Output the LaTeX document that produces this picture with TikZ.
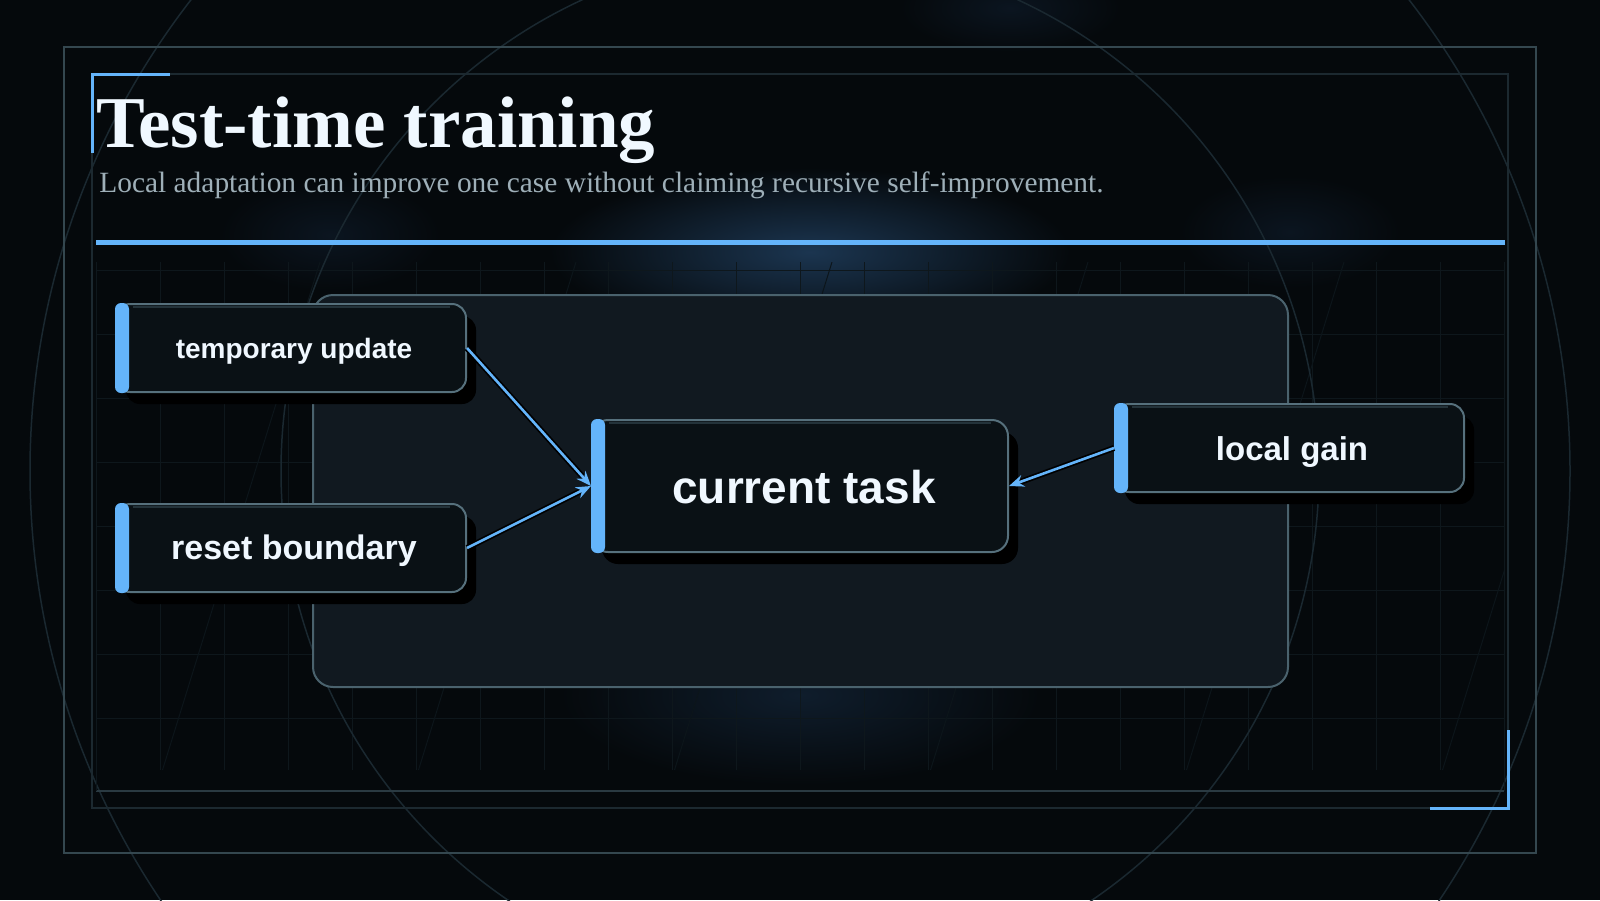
\documentclass[tikz,border=0pt]{standalone}
\usepackage{fontspec}
\setmainfont{Liberation Serif}
\newfontfamily\cardfont{Liberation Sans}
\usetikzlibrary{arrows.meta,shadows}
\definecolor{bgc}{HTML}{05090C}
\definecolor{gridc}{HTML}{0E171C}
\definecolor{slantc}{HTML}{0C151A}
\definecolor{ringc}{HTML}{1A2830}
\definecolor{outerc}{HTML}{34474F}
\definecolor{innerc}{HTML}{1C2930}
\definecolor{footc}{HTML}{2A3A42}
\definecolor{accent}{HTML}{64B4FA}
\definecolor{panelfill}{HTML}{111920}
\definecolor{panelline}{HTML}{4A626D}
\definecolor{cardfill}{HTML}{0A1115}
\definecolor{cardline}{HTML}{56707C}
\definecolor{hlc}{HTML}{24333A}
\definecolor{titlec}{HTML}{F0F8FF}
\definecolor{subc}{HTML}{9EAFB8}
\definecolor{glowc}{HTML}{1B3550}
\definecolor{glowd}{HTML}{0F1D2C}
\definecolor{glowe}{HTML}{0B1520}
\tikzset{
  card/.style={draw=cardline, line width=1pt, fill=cardfill, rounded corners=7pt,
    inner sep=0pt, drop shadow={shadow xshift=5pt, shadow yshift=-6pt, fill=black, opacity=1}},
  panelbox/.style={draw=panelline, line width=1pt, fill=panelfill, rounded corners=10pt, inner sep=0pt},
  bar/.style={fill=accent, rounded corners=3pt},
  hl/.style={draw=hlc, line width=1pt},
  lbl/.style={anchor=base, inner sep=0pt, text=titlec, font=\cardfont\bfseries},
  arr/.style={draw=accent, line width=1.3pt, -{Stealth[length=7.5pt,width=6pt]},
    preaction={draw=black, line width=3pt}},
  gridline/.style={draw=gridc, line width=0.5pt},
  ring/.style={draw=ringc, line width=0.75pt},
}
\begin{document}
\begin{tikzpicture}[x=0.5pt,y=-0.5pt]
\fill[bgc] (0,0) rectangle (1600,900);
\useasboundingbox (0,0) rectangle (1600,900);
\begin{scope}
\clip (0,0) rectangle (1600,900);
% glows
\shade[inner color=glowc, outer color=bgc] (810,252) ellipse [x radius=130pt, y radius=42pt];
\shade[inner color=glowd, outer color=bgc] (800,695) ellipse [x radius=120pt, y radius=45pt];
\shade[inner color=glowe, outer color=bgc] (330,235) ellipse [x radius=55pt, y radius=28pt];
\shade[inner color=glowe, outer color=bgc] (1290,232) ellipse [x radius=55pt, y radius=28pt];
\shade[inner color=glowe, outer color=bgc] (1010,8) ellipse [x radius=55pt, y radius=22pt];
% grid
\foreach \k in {0,...,22} { \draw[gridline] ({96+64*\k},262) -- ({96+64*\k},770); }
\foreach \k in {0,...,7} { \draw[gridline] (96,{270+64*\k}) -- (1504,{270+64*\k}); }
\begin{scope}
\clip (96,262) rectangle (1504,770);
\foreach \k in {1,...,6} { \draw[draw=slantc, line width=0.5pt] ({64+256*\k},262) -- ({64+256*\k-157.5},770); }
\end{scope}
% rings
\draw[ring] (800,471) circle [radius=385pt];
\draw[ring] (800,471) circle [radius=259.5pt];
\end{scope}
% frames
\draw[outerc, line width=1pt] (64,47) rectangle (1536,853);
\draw[innerc, line width=1pt] (92,74) rectangle (1508,808);
\draw[footc, line width=1pt] (96,791) -- (1504,791);
\draw[gridline] (96,262) -- (96,791);
\draw[gridline] (1504,262) -- (1504,791);
\draw[accent, line width=1.5pt] (170,74) -- (92,74) -- (92,153);
\draw[accent, line width=1.5pt] (1508,730) -- (1508,808) -- (1430,808);
% title
\node[anchor=base west, inner sep=0pt, text=titlec, font=\fontsize{36.5pt}{40pt}\selectfont\bfseries] (title) at (96,147) {Test-time training};
\node[anchor=base west, inner sep=0pt, text=subc, font=\fontsize{14.7pt}{17pt}\selectfont] (subtitle) at (99,192) {Local adaptation can improve one case without claiming recursive self-improvement.};
\fill[accent] (96,240) rectangle (1505,245);
% panel
\node[panelbox, minimum width=487.5pt, minimum height=196pt] (panel) at (800.5,491) {};
% cards
\node[card, minimum width=175pt, minimum height=44pt] (tu) at (291,348) {};
\node[card, minimum width=175pt, minimum height=44pt] (rb) at (291,548) {};
\node[card, minimum width=208pt, minimum height=66pt, rounded corners=8pt] (ct) at (800,486) {};
\node[card, minimum width=174.5pt, minimum height=44pt] (lg) at (1289.5,448) {};
\foreach \n/\r in {tu/8.5pt, rb/8.5pt, ct/9pt, lg/8.5pt} {
  \draw[hl] ([xshift=9pt,yshift=-2pt]\n.north west) -- ([xshift=-\r,yshift=-2pt]\n.north east);
  \fill[bar] (\n.north west) rectangle ([xshift=7pt]\n.south west);
}
\node[lbl, font=\cardfont\bfseries\fontsize{14pt}{16pt}\selectfont] (tut) at (294,358) {temporary update};
\node[lbl, font=\cardfont\bfseries\fontsize{17pt}{19pt}\selectfont] (rbt) at (294,559) {reset boundary};
\node[lbl, font=\cardfont\bfseries\fontsize{23pt}{26pt}\selectfont] (ctt) at (804,503) {current task};
\node[lbl, font=\cardfont\bfseries\fontsize{16.5pt}{19pt}\selectfont] (lgt) at (1292,460) {local gain};
% connectors
\draw[arr] (tu.east) -- (ct.west);
\draw[arr] (rb.east) -- (ct.west);
\draw[arr] (lg.west) -- (ct.east);
\end{tikzpicture}
\end{document}
